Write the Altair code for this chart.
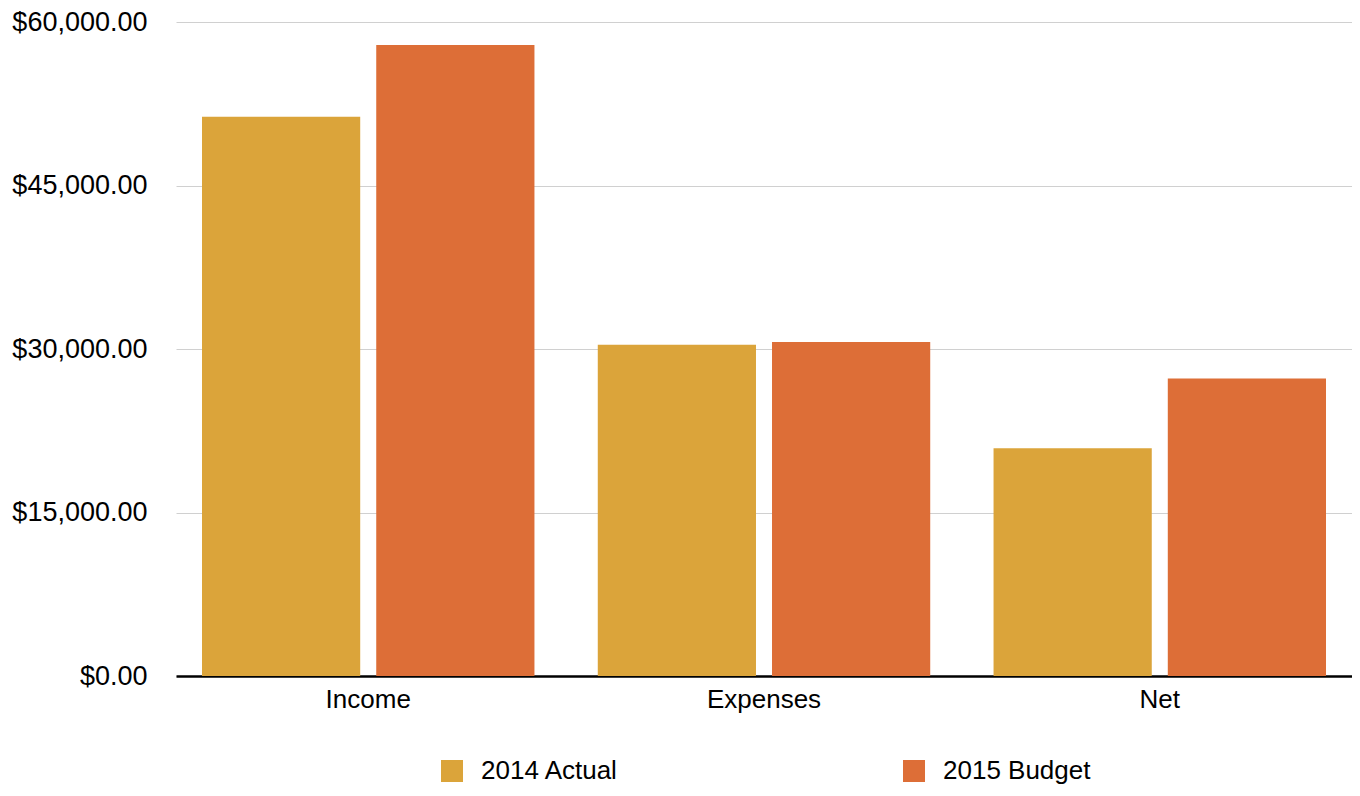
import altair as alt
import pandas as pd

categories = ["Income", "Expenses", "Net"]
series = ["2014 Actual", "2015 Budget"]
actual_2014 = [51300, 30400, 20900]
budget_2015 = [57900, 30650, 27300]
y_ticks = [0, 15000, 30000, 45000, 60000]
colors = ["#DBA43A", "#DD6E37"]

rows = []
for i, c in enumerate(categories):
    rows.append({"category": c, "series": series[0], "value": actual_2014[i]})
    rows.append({"category": c, "series": series[1], "value": budget_2015[i]})
df = pd.DataFrame(rows)

FONT = "Liberation Sans"

chart = alt.Chart(df).mark_bar().encode(
    x=alt.X("category:N", sort=categories,
            scale=alt.Scale(paddingInner=0.16, paddingOuter=0.0657),
            axis=alt.Axis(title=None, labelAngle=0, labelFontSize=26, labelFont=FONT,
                          labelColor="black", labelPadding=10, ticks=False,
                          domainColor="black", domainWidth=2.5, grid=False)),
    xOffset=alt.XOffset("series:N", sort=series,
                        scale=alt.Scale(paddingInner=0.092, paddingOuter=0)),
    y=alt.Y("value:Q", scale=alt.Scale(domain=[0, 60000], nice=False),
            axis=alt.Axis(title=None, values=y_ticks, format="$,.2f", labelFontSize=27,
                          labelFont=FONT, labelColor="black", labelPadding=29,
                          ticks=False, domain=False, gridColor="#D0D0D0", gridWidth=1)),
    color=alt.Color("series:N", sort=series,
                    scale=alt.Scale(domain=series, range=colors),
                    legend=alt.Legend(title=None, orient="none", direction="horizontal",
                                      legendX=263, legendY=736, symbolType="square",
                                      symbolSize=484, symbolStrokeWidth=0, labelFontSize=26,
                                      labelFont=FONT, labelColor="black", labelOffset=16,
                                      columnPadding=282, symbolOpacity=1)),
).properties(
    width=1176, height=654,
    autosize=alt.AutoSizeParams(type="none"),
    padding={"left": 168, "top": 14, "right": 0, "bottom": 110},
).configure_view(stroke=None)

chart.save("out.html", embed_options={"renderer": "svg", "actions": False})
